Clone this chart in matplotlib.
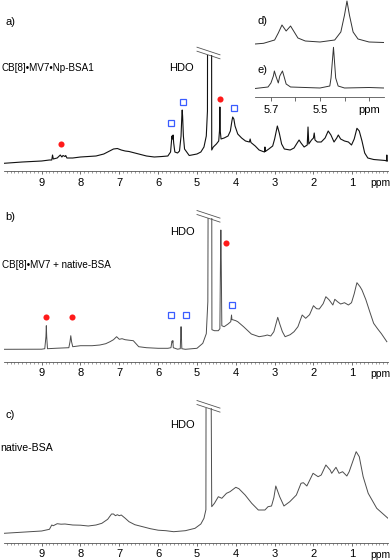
import matplotlib
matplotlib.use('Agg')
import matplotlib.pyplot as plt
from matplotlib.lines import Line2D
from matplotlib.ticker import MultipleLocator, FixedLocator, FixedFormatter

plt.rcParams['font.family'] = ['Liberation Sans', 'DejaVu Sans']

W, H = 392, 560

# a) CB[8]•MV7•Np-BSA1  (ppm, intensity)
ppm_a = [9.97, 9.5, 9.0, 8.8, 8.74, 8.72, 8.70, 8.6, 8.52, 8.48, 8.45, 8.4, 8.38, 8.35,
         8.2, 8.0, 7.8, 7.6, 7.4, 7.25, 7.15, 7.05, 6.95, 6.85, 6.75, 6.7, 6.5, 6.3, 6.1,
         5.9, 5.75, 5.68, 5.66, 5.645, 5.63, 5.615, 5.6, 5.57, 5.5, 5.45, 5.41, 5.39, 5.38,
         5.37, 5.35, 5.32, 5.2, 5.0, 4.9, 4.82, 4.76, 4.73, 4.715, 4.635, 4.62, 4.58, 4.5,
         4.44, 4.42, 4.41, 4.40, 4.38, 4.3, 4.2, 4.14, 4.1, 4.08, 4.05, 4.02, 3.95, 3.85,
         3.75, 3.65, 3.63, 3.61, 3.5, 3.4, 3.3, 3.26, 3.25, 3.24, 3.15, 3.05, 3.0, 2.93,
         2.88, 2.82, 2.75, 2.6, 2.5, 2.42, 2.37, 2.32, 2.24, 2.16, 2.14, 2.12, 2.05, 2.0,
         1.98, 1.96, 1.9, 1.8, 1.7, 1.62, 1.55, 1.47, 1.4, 1.36, 1.3, 1.2, 1.1, 1.02, 0.95,
         0.88, 0.82, 0.75, 0.68, 0.6, 0.45, 0.3, 0.15, 0.12, 0.11, 0.10, 0.08]
int_a = [7.7, 9, 10, 11, 11, 16, 12, 13, 16, 14, 15.5, 14.5, 15.5, 13,
         13, 14, 14.5, 15, 17, 20, 22, 22.5, 21, 20, 19.5, 19, 17, 15, 14,
         14.5, 15, 19, 28, 35, 32, 36, 28, 19, 18, 20, 35, 55, 61,
         55, 35, 22, 15.5, 17, 19, 24, 35, 60, 500, 500, 21, 24, 27,
         30, 40, 64, 40, 32, 33, 35, 40, 50, 54, 52, 45, 37, 33,
         30, 29, 32, 28.5, 25, 21, 19.5, 19, 24, 19.5, 22, 25, 32, 45,
         38, 27, 22, 21, 23, 28, 31, 28, 24, 26, 44, 27, 31, 33,
         38, 31, 29, 29, 33, 40, 36, 29, 33, 36, 32, 30, 29, 26, 32,
         42.7, 40, 30, 18, 13, 11.5, 11, 10.5, 10, 16, 10, 10]

# b) CB[8]•MV7 + native-BSA
ppm_b = [9.97, 9.0, 8.92, 8.89, 8.88, 8.87, 8.85, 8.6, 8.3, 8.27, 8.25, 8.23, 8.2, 8.0,
         7.7, 7.5, 7.35, 7.24, 7.15, 7.07, 7.0, 6.93, 6.85, 6.75, 6.64, 6.5, 6.3, 6.0,
         5.75, 5.67, 5.65, 5.64, 5.63, 5.62, 5.61, 5.5, 5.43, 5.42, 5.41, 5.40, 5.39, 5.3,
         5.0, 4.85, 4.76, 4.72, 4.69, 4.63, 4.615, 4.55, 4.45, 4.41, 4.395, 4.385, 4.375,
         4.36, 4.3, 4.2, 4.13, 4.11, 4.10, 4.08, 4.0, 3.95, 3.8, 3.6, 3.4, 3.25, 3.19, 3.1,
         3.02, 2.95, 2.92, 2.87, 2.8, 2.73, 2.6, 2.5, 2.4, 2.29, 2.2, 2.1, 2.0, 1.92, 1.85,
         1.75, 1.68, 1.6, 1.5, 1.45, 1.38, 1.3, 1.2, 1.1, 1.02, 0.95, 0.9, 0.88, 0.8, 0.75,
         0.65, 0.55, 0.45, 0.35, 0.25, 0.11]
int_b = [12.4, 12.5, 13, 25, 36, 25, 13, 13.5, 14, 20, 26, 20, 15, 16,
         16, 16.7, 18, 20, 22, 25, 22.4, 23, 22, 21.5, 21, 15, 14, 13.4,
         13.4, 14, 19, 20.7, 19, 21, 14, 12.5, 13, 25, 35, 25, 13, 12.4,
         13.4, 18.4, 28, 60, 500, 500, 32, 31, 31, 33, 100, 131.7, 100,
         36, 35, 37.7, 40, 46.7, 42, 42, 41, 40, 35, 27.7, 25, 26, 26.7, 25.7,
         30, 40, 44.4, 38, 30, 25, 27, 30, 35, 46.7, 43.4, 47, 56, 53, 52.7,
         58, 65, 62, 56.7, 62.4, 60, 57.7, 59, 56.7, 59, 68, 76, 79, 75, 71.7,
         62, 50, 38.4, 33, 28, 20]

# c) native-BSA
ppm_c = [9.97, 9.0, 8.8, 8.74, 8.7, 8.6, 8.5, 8.4, 8.2, 8.0, 7.8, 7.6, 7.45, 7.3, 7.2,
         7.15, 7.1, 7.05, 7.0, 6.95, 6.85, 6.75, 6.6, 6.4, 6.2, 6.0, 5.8, 5.6, 5.3, 5.05,
         4.9, 4.82, 4.77, 4.755, 4.68, 4.62, 4.55, 4.45, 4.36, 4.24, 4.15, 4.0, 3.92, 3.76,
         3.59, 3.42, 3.25, 3.17, 3.08, 3.02, 2.97, 2.87, 2.76, 2.61, 2.44, 2.32, 2.26, 2.17,
         2.01, 1.88, 1.8, 1.68, 1.57, 1.53, 1.42, 1.34, 1.25, 1.14, 1.08, 0.9, 0.82, 0.72,
         0.59, 0.37, 0.08]
int_c = [9.4, 11.7, 13.4, 17.7, 17, 19, 18.5, 18.7, 17.7, 17.5, 16.7, 17.7, 19.4, 23.4, 28.7,
         28.7, 27, 28, 27, 27.7, 24.5, 21, 18, 16, 14, 12.5, 12, 11, 12, 14.4,
         18.7, 24.4, 33, 500, 500, 36, 39.4, 46, 44.4, 49.4, 51, 55.4, 54, 47.7,
         39.4, 32.7, 32.7, 36, 36.7, 45, 56.7, 46, 36.7, 41, 47.7, 59.4, 60, 56.7,
         69.4, 66, 67.7, 77.7, 72.7, 69.4, 75.4, 69.4, 71, 66.7, 71, 91, 86, 66,
         49.4, 34.4, 24.4]

# inset d) and e)
ppm_d = [5.765, 5.73, 5.685, 5.67, 5.655, 5.638, 5.62, 5.605, 5.59, 5.56, 5.5, 5.44,
         5.415, 5.40, 5.39, 5.38, 5.365, 5.345, 5.3, 5.239]
int_d = [53, 53.7, 57, 64, 72, 66, 71, 65, 59, 56, 55, 57,
         65, 82, 96, 82, 65, 58, 55, 54.5]
ppm_e = [5.765, 5.712, 5.70, 5.69, 5.686, 5.68, 5.67, 5.664, 5.653, 5.646, 5.638, 5.62,
         5.5, 5.46, 5.455, 5.445, 5.436, 5.426, 5.4, 5.3, 5.239]
int_e = [8.5, 10, 14, 21, 26, 21, 14, 21, 26, 20, 13, 10,
         9, 11, 19, 49.7, 19, 11, 9, 9.5, 9]

# markers
red_a_ppm = [8.5, 4.41]
red_a_int = [26.7, 72]
blue_a_ppm = [5.66, 5.37, 4.05]
blue_a_int = [48.3, 69.3, 62.7]
red_b_ppm = [8.89, 8.23, 4.26]
red_b_int = [45, 45, 118.4]
blue_b_ppm = [5.67, 5.29, 4.1]
blue_b_int = [46.7, 46.7, 56.7]

fig = plt.figure(figsize=(W / 100, H / 100), dpi=100)


def add_panel(left, top, right, bottom):
    ax = fig.add_axes([left / W, 1 - bottom / H, (right - left) / W, (bottom - top) / H])
    ax.set_facecolor('none')
    for s in ['top', 'left', 'right']:
        ax.spines[s].set_visible(False)
    ax.spines['bottom'].set_color('#555555')
    ax.spines['bottom'].set_linewidth(0.6)
    ax.set_yticks([])
    ax.set_ylim(0, bottom - top)
    ax.tick_params(axis='x', which='major', length=2.2, width=0.6, color='#555555',
                   labelsize=8, pad=2.5)
    ax.tick_params(axis='x', which='minor', length=1.3, width=0.5, color='#777777')
    return ax


def ftext(x, y, s, size=8, **kw):
    fig.text(x / W, 1 - y / H, s, fontsize=size, va='center', **kw)


def break_marks(x, top):
    for dy in (-3.5, 0.5):
        fig.add_artist(Line2D([(x - 13) / W, (x + 10) / W],
                              [1 - (top + dy - 13 * 0.33) / H, 1 - (top + dy + 10 * 0.33) / H],
                              color='#555555', lw=0.6))


def main_axis(ax):
    ax.set_xlim(9.97, 0.08)
    ax.xaxis.set_major_locator(FixedLocator([9, 8, 7, 6, 5, 4, 3, 2, 1]))
    ax.xaxis.set_minor_locator(MultipleLocator(0.1))


panels = [(55, 171, ppm_a, int_a, '#111111', 0.8),
          (218.3, 361.7, ppm_b, int_b, '#4d4d4d', 0.7),
          (408.3, 542.7, ppm_c, int_c, '#4d4d4d', 0.7)]
axes = []
for top, bottom, x, y, col, lw in panels:
    ax = add_panel(4, top, 388, bottom)
    main_axis(ax)
    ax.plot(x, y, color=col, lw=lw, solid_joinstyle='round')
    ftext(390, bottom + 12, 'ppm', ha='right', size=7.4)
    break_marks(210, top)
    axes.append(ax)

ax_a, ax_b, ax_c = axes
ax_a.plot(red_a_ppm, red_a_int, 'o', color='#ff1a1a', ms=4.4, mew=0, clip_on=False)
ax_a.plot(blue_a_ppm, blue_a_int, 's', mfc='white', mec='#3a5cff', ms=4.2, mew=0.9, clip_on=False)
ax_b.plot(red_b_ppm, red_b_int, 'o', color='#ff1a1a', ms=4.4, mew=0, clip_on=False)
ax_b.plot(blue_b_ppm, blue_b_int, 's', mfc='white', mec='#3a5cff', ms=4.2, mew=0.9, clip_on=False)

ftext(5, 21.7, 'a)')
ftext(2, 68.3, 'CB[8]•MV7•Np-BSA1', size=7.1)
ftext(181, 68.3, 'HDO', ha='center')
ftext(5, 216.7, 'b)')
ftext(2, 265, 'CB[8]•MV7 + native-BSA', size=7.1)
ftext(182, 231.7, 'HDO', ha='center')
ftext(5, 415, 'c)')
ftext(0, 448.3, 'native-BSA', size=7.6)
ftext(182, 425, 'HDO', ha='center')

# inset d) / e)
ax_in = add_panel(255, 0, 384, 97)
ax_in.set_xlim(5.765, 5.239)
ax_in.xaxis.set_major_locator(FixedLocator([5.7, 5.6, 5.5, 5.4, 5.3]))
ax_in.xaxis.set_major_formatter(FixedFormatter(['5.7', '', '5.5', '', 'ppm']))
ax_in.tick_params(axis='x', which='major', length=3)
ax_in.plot(ppm_d, int_d, color='#333333', lw=0.7)
ax_in.plot(ppm_e, int_e, color='#333333', lw=0.7)
ftext(257, 20.5, 'd)')
ftext(257, 70, 'e)')

fig.savefig('out.png', dpi=100)
